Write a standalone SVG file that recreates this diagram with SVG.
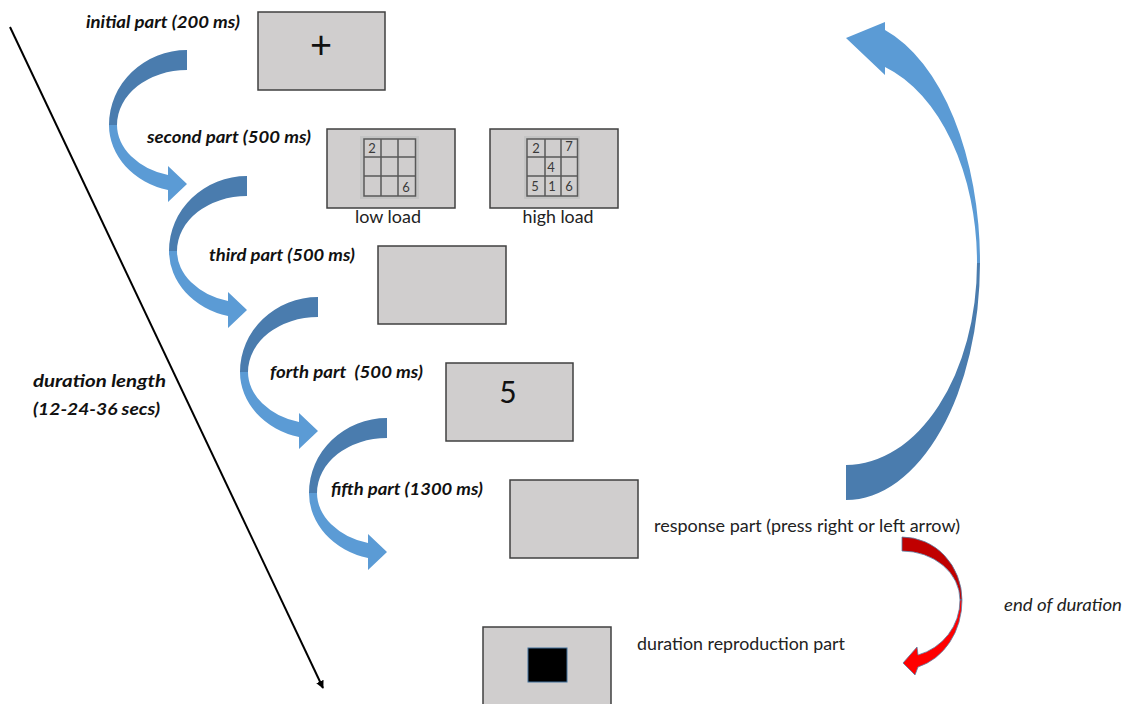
<svg xmlns="http://www.w3.org/2000/svg" width="1127" height="704" viewBox="0 0 1127 704">
<style>
.box{fill:#d0cece;stroke:#404040;stroke-width:1.5}
.lbl{font-family:Lato,"Open Sans",sans-serif;font-size:17px;font-weight:bold;font-style:italic;fill:#111}
.txt{font-family:Lato,"Open Sans",sans-serif;font-size:18px;fill:#222}
.it{font-family:Lato,"Open Sans",sans-serif;font-size:18px;font-style:italic;fill:#222}
.gbg{fill:#c4c4c4}
.grid{fill:#d0cece;stroke:#595959;stroke-width:1.5}
.gl{stroke:#595959;stroke-width:1.5}
.dig{font-family:Lato,"Open Sans",sans-serif;font-size:13px;fill:#3a3a3a;text-anchor:middle}
.back{fill:#4a7cae}
.front{fill:#5b9bd5}
</style>
<defs>
<marker id="ah" viewBox="0 0 10 10" refX="9" refY="5" markerWidth="8" markerHeight="8" orient="auto" markerUnits="userSpaceOnUse">
<path d="M0,0 L10,5 L0,10 Z" fill="#000"/>
</marker>
<g id="carrow">
<path class="back" d="M0,0 A78,75 0 0 0 -78,75 L-70,75 A70,55 0 0 1 0,20 Z"/>
<path class="front" d="M-78,75 A78,67 0 0 0 -19,140 L-19,152 L0,134 L-19,116 L-19,125 A70,52 0 0 1 -70,75 Z"/>
</g>
</defs>

<g id="connectors">
<line x1="10" y1="27" x2="323" y2="688" stroke="#000" stroke-width="2" marker-end="url(#ah)"/>
<use href="#carrow" transform="translate(187,50)"/>
<use href="#carrow" transform="translate(247,176)"/>
<use href="#carrow" transform="translate(318,297)"/>
<use href="#carrow" transform="translate(387,418)"/>
<g id="loop-arrow">
<path class="back" d="M846,500 A134,237 0 0 0 980,263 L977,263 A131,202 0 0 1 846,465 Z"/>
<path class="front" d="M980,263 A134,243 0 0 0 885,30 L885,22 L846,38 L885,75 L885,67 A131,205 0 0 1 977,263 Z"/>
</g>
<g id="red-arrow" stroke="#5a7fa5" stroke-width="0.8">
<path fill="#c00000" d="M902,537 A60,63 0 0 1 962,600 L960,600 A58,49 0 0 0 902,551 Z"/>
<path fill="#ff0000" d="M962,600 A60,69 0 0 1 918,667 L915,675 L903,663 L917,647 L918,655 A58,57 0 0 0 960,600 Z"/>
</g>
</g>

<g id="initial">
<rect class="box" x="258" y="12" width="127" height="78"/>
<text x="321" y="58" font-family="Lato,'Open Sans',sans-serif" font-size="38" text-anchor="middle" fill="#111">+</text>
<text class="lbl" x="86" y="28" textLength="154" lengthAdjust="spacingAndGlyphs">initial part (200 ms)</text>
</g>

<g id="second">
<text class="lbl" x="147" y="143" textLength="164" lengthAdjust="spacingAndGlyphs">second part (500 ms)</text>
<g id="low-load">
<rect class="box" x="327" y="129" width="128" height="79"/>
<rect class="gbg" x="360" y="136" width="59" height="63"/>
<rect class="grid" x="364" y="139" width="51.5" height="57"/>
<line class="gl" x1="381" y1="139" x2="381" y2="196"/>
<line class="gl" x1="398" y1="139" x2="398" y2="196"/>
<line class="gl" x1="364" y1="157" x2="415.5" y2="157"/>
<line class="gl" x1="364" y1="176" x2="415.5" y2="176"/>
<text class="dig" x="372" y="153">2</text>
<text class="dig" x="406" y="192">6</text>
<text class="txt" x="388" y="223" text-anchor="middle" textLength="66" lengthAdjust="spacingAndGlyphs">low load</text>
</g>
<g id="high-load">
<rect class="box" x="490" y="129" width="128" height="79"/>
<rect class="gbg" x="524" y="136" width="56" height="63"/>
<rect class="grid" x="527" y="139" width="50.5" height="57"/>
<line class="gl" x1="545" y1="139" x2="545" y2="196"/>
<line class="gl" x1="561" y1="139" x2="561" y2="196"/>
<line class="gl" x1="527" y1="157" x2="577.5" y2="157"/>
<line class="gl" x1="527" y1="176" x2="577.5" y2="176"/>
<text class="dig" x="536" y="153">2</text>
<text class="dig" x="569" y="151">7</text>
<text class="dig" x="551" y="172">4</text>
<text class="dig" x="535" y="191">5</text>
<text class="dig" x="552" y="191">1</text>
<text class="dig" x="569" y="191">6</text>
<text class="txt" x="558" y="223" text-anchor="middle" textLength="71" lengthAdjust="spacingAndGlyphs">high load</text>
</g>
</g>

<g id="third">
<rect class="box" x="378" y="246" width="128" height="78"/>
<text class="lbl" x="209" y="261" textLength="146" lengthAdjust="spacingAndGlyphs">third part (500 ms)</text>
</g>

<g id="forth">
<rect class="box" x="446" y="363" width="127" height="78"/>
<text x="508" y="403" font-family="Lato,'Open Sans',sans-serif" font-size="30" text-anchor="middle" fill="#111">5</text>
<text class="lbl" x="270" y="378" textLength="153" lengthAdjust="spacingAndGlyphs" xml:space="preserve">forth part  (500 ms)</text>
</g>

<g id="fifth">
<rect class="box" x="510" y="480" width="128" height="78"/>
<text class="lbl" x="331" y="495" textLength="152" lengthAdjust="spacingAndGlyphs">fifth part (1300 ms)</text>
</g>

<g id="response">
<text class="txt" x="654" y="532" textLength="306" lengthAdjust="spacingAndGlyphs">response part (press right or left arrow)</text>
</g>

<g id="end-label">
<text class="it" x="1004" y="611" textLength="118" lengthAdjust="spacingAndGlyphs">end of duration</text>
</g>

<g id="reproduction">
<rect class="box" x="483" y="627" width="128" height="82"/>
<rect x="528" y="648" width="39" height="34" fill="#000" stroke="#41719c" stroke-width="1"/>
<text class="txt" x="637" y="650" textLength="208" lengthAdjust="spacingAndGlyphs">duration reproduction part</text>
</g>

<g id="duration-length">
<text class="lbl" x="33" y="387" textLength="133" lengthAdjust="spacingAndGlyphs">duration length</text>
<text class="lbl" x="33" y="415" textLength="127" lengthAdjust="spacingAndGlyphs">(12-24-36 secs)</text>
</g>
</svg>
